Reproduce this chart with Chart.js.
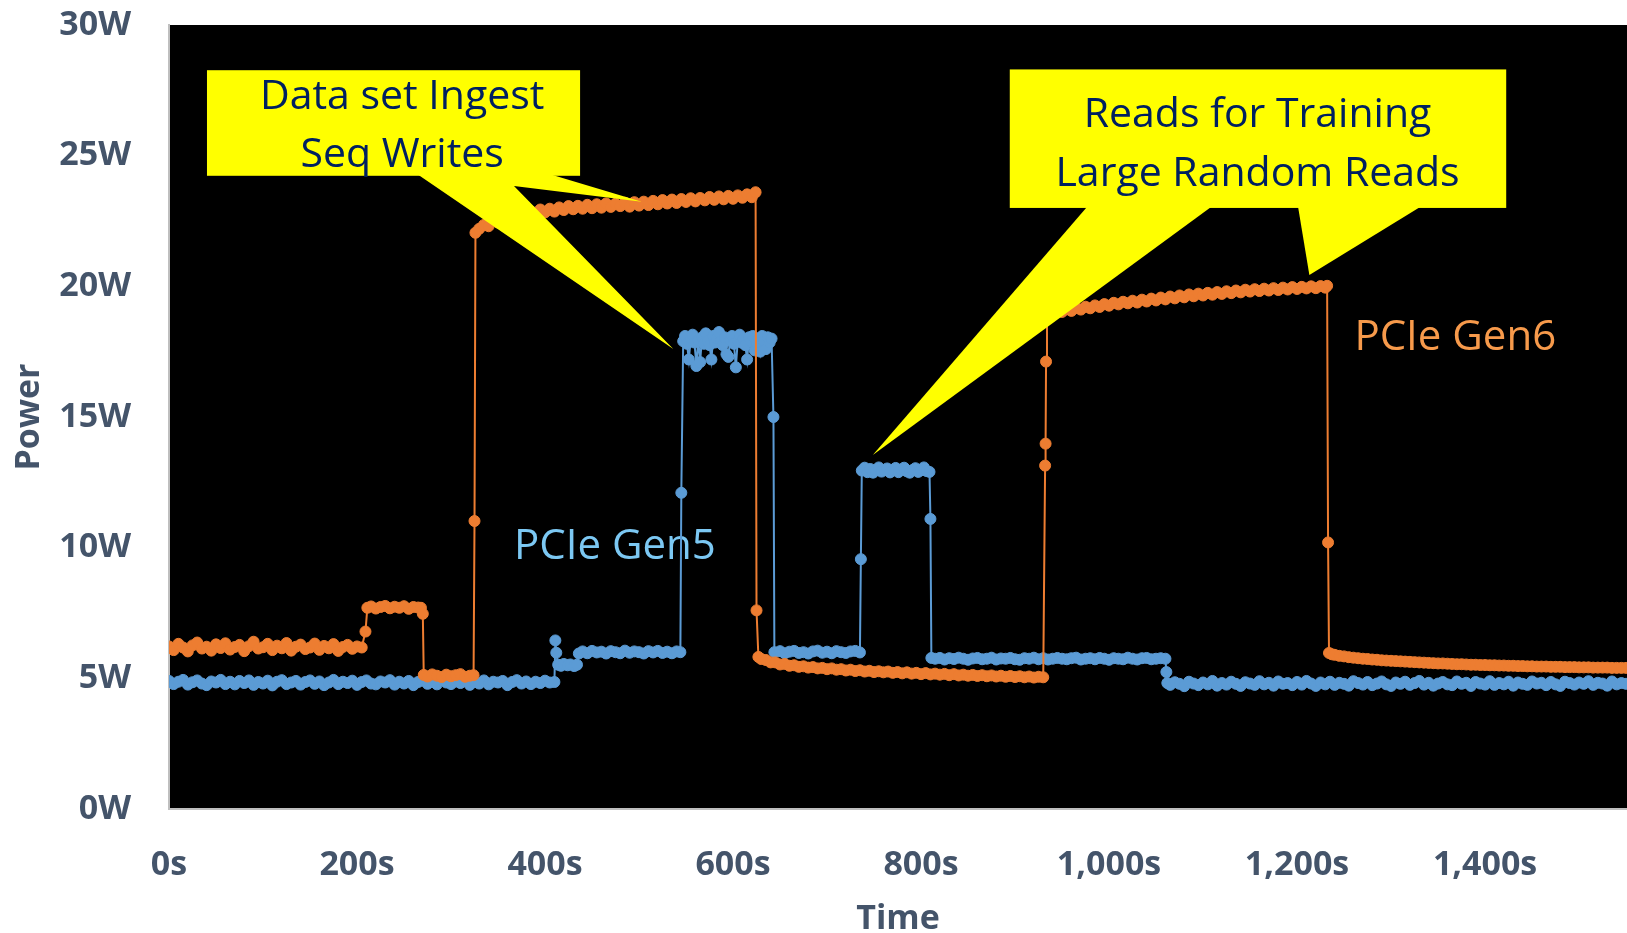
<!DOCTYPE html>
<html><head><meta charset="utf-8">
<script src="https://cdn.jsdelivr.net/npm/chart.js@4.4.0/dist/chart.umd.min.js"></script>
<style>html,body{margin:0;padding:0;background:#fff;overflow:hidden;}canvas{display:block;}</style>
</head><body><canvas id="c" width="1627" height="933" style="width:1627px;height:933px;"></canvas>
<script>
// ---- Data (seconds, watts) ----
const gen5Time = [
 0,5,10,15,20,25,30,35,40,45,50,55,60,65,70,75,80,85,90,95,
 100,105,110,115,120,125,130,135,140,145,150,155,160,165,170,175,180,185,190,195,
 200,205,210,215,220,225,230,235,240,245,250,255,260,265,270,275,280,285,290,295,
 300,305,310,315,320,325,330,335,340,345,350,355,360,365,370,375,380,385,390,395,
 400,405,410,
 411,412,414,417,420,424,427,431,434,436,
 440,445,450,455,460,465,470,475,480,485,490,495,500,505,510,515,520,525,530,535,540,544,
 545,
 547,549,551,553,555,557,559,561,563,565,567,569,571,573,575,577,579,581,583,585,
 587,589,591,593,595,597,599,601,603,605,607,609,611,613,615,617,619,621,623,625,
 627,629,631,633,635,637,639,641,
 643,
 644,650,655,660,665,670,675,680,685,690,695,700,705,710,715,720,725,730,735,
 736,
 737,740,743,746,749,752,755,758,761,764,767,770,773,776,779,782,785,788,791,794,797,800,803,806,809,
 810,
 811,815,820,825,830,835,840,845,850,855,860,865,870,875,880,885,890,895,900,905,910,
 915,920,925,930,935,940,945,950,955,960,965,970,975,980,985,990,995,1000,1005,1010,
 1015,1020,1025,1030,1035,1040,1045,1050,1055,1060,
 1061,1062,
 1065,1070,1075,1080,1085,1090,1095,1100,1105,1110,
 1115,1120,1125,1130,1135,1140,1145,1150,1155,1160,
 1165,1170,1175,1180,1185,1190,1195,1200,1205,1210,
 1215,1220,1225,1230,1235,1240,1245,1250,1255,1260,
 1265,1270,1275,1280,1285,1290,1295,1300,1305,1310,
 1315,1320,1325,1330,1335,1340,1345,1350,1355,1360,
 1365,1370,1375,1380,1385,1390,1395,1400,1405,1410,
 1415,1420,1425,1430,1435,1440,1445,1450,1455,1460,
 1465,1470,1475,1480,1485,1490,1495,1500,1505,1510,
 1515,1520,1525,1530,1535,1540,1545,1550];
const gen5Watts = [
 4.9,4.78,4.87,4.94,4.76,4.85,4.92,4.8,4.74,4.88,4.84,4.94,4.78,4.87,4.77,4.9,4.82,4.92,4.75,4.86,
 4.8,4.91,4.73,4.87,4.93,4.78,4.84,4.9,4.76,4.86,4.92,4.79,4.88,4.74,4.84,4.94,4.78,4.87,4.82,4.91,
 4.75,4.86,4.92,4.8,4.77,4.88,4.84,4.93,4.76,4.87,4.8,4.9,4.74,4.86,4.92,4.79,4.87,4.77,4.94,4.84,
 4.78,4.88,4.82,4.91,4.75,4.86,4.8,4.92,4.77,4.87,4.84,4.9,4.74,4.86,4.93,4.8,4.88,4.78,4.87,4.82,
 4.91,4.84,4.86,
 6.45,5.98,5.52,5.48,5.55,5.5,5.53,5.47,5.52,5.95,
 6.03,5.96,6.05,5.99,6.02,5.95,6.04,6.0,5.96,6.06,5.98,6.03,6.0,5.95,6.04,5.99,6.05,5.97,6.02,5.96,6.03,6.0,
 12.1,
 17.9,18.1,17.8,17.2,18.0,18.15,17.85,16.95,17.95,17.1,18.05,17.8,18.2,17.9,17.75,17.2,18.1,17.85,18.0,18.25,
 17.9,17.75,18.05,17.4,17.3,17.95,18.1,17.8,16.9,17.9,18.15,17.85,18.0,17.75,17.2,18.05,17.9,18.1,17.55,17.85,
 18.0,17.5,18.1,17.9,17.6,18.05,17.85,18.0,
 15.0,
 6.0,6.04,5.96,6.02,6.05,5.97,6.0,5.95,6.03,6.06,5.98,6.02,5.96,6.04,6.0,5.97,6.03,6.05,5.99,
 9.56,
 12.95,13.06,12.89,13.01,12.87,12.97,13.07,12.91,12.98,13.03,12.88,12.95,13.05,12.89,12.99,13.06,12.92,12.87,12.97,13.04,12.9,12.96,13.07,12.93,12.9,
 11.1,
 5.78,5.75,5.78,5.72,5.77,5.74,5.79,5.75,5.71,5.76,5.78,5.73,5.75,5.79,5.72,5.76,5.75,5.78,5.73,5.71,5.77,
 5.75,5.79,5.73,5.77,5.72,5.75,5.78,5.75,5.73,5.77,5.79,5.72,5.75,5.77,5.73,5.78,5.75,5.71,5.77,5.75,
 5.73,5.79,5.75,5.72,5.77,5.78,5.73,5.75,5.77,5.75,
 5.24,4.82,
 4.75,4.85,4.79,4.7,4.87,4.8,4.74,4.84,4.77,4.9,
 4.72,4.82,4.76,4.87,4.79,4.71,4.85,4.8,4.75,4.89,
 4.77,4.83,4.72,4.88,4.79,4.82,4.74,4.86,4.76,4.9,
 4.8,4.71,4.84,4.77,4.87,4.75,4.83,4.79,4.72,4.89,
 4.82,4.76,4.86,4.74,4.8,4.88,4.77,4.71,4.84,4.79,
 4.87,4.75,4.82,4.9,4.76,4.83,4.72,4.8,4.86,4.77,
 4.74,4.88,4.79,4.83,4.71,4.86,4.8,4.76,4.89,4.75,
 4.82,4.77,4.87,4.72,4.84,4.79,4.75,4.88,4.8,4.83,
 4.74,4.86,4.77,4.71,4.87,4.82,4.76,4.84,4.79,4.89,
 4.75,4.83,4.8,4.72,4.88,4.77,4.82,4.79];
const gen6Time = [
 0,5,10,15,20,25,30,35,40,45,50,55,60,65,70,75,80,85,90,95,
 100,105,110,115,120,125,130,135,140,145,150,155,160,165,170,175,180,185,190,195,
 200,205,209,
 211,215,220,225,230,235,240,245,250,255,260,265,268,270,
 271,275,280,285,290,295,300,305,310,315,320,324,325,
 326,330,
 335,340,345,350,355,360,365,370,375,380,385,390,395,400,405,410,415,420,425,430,
 435,440,445,450,455,460,465,470,475,480,485,490,495,500,505,510,515,520,525,530,
 535,540,545,550,555,560,565,570,575,580,585,590,595,600,605,610,615,620,624,
 625,
 627,630,635,640,645,650,655,660,665,670,675,680,685,690,695,700,705,710,715,720,
 725,730,735,740,745,750,755,760,765,770,775,780,785,790,795,800,805,810,815,820,
 825,830,835,840,845,850,855,860,865,870,875,880,885,890,895,900,905,910,915,920,925,930,
 932,932.5,933,934,937,940,
 945,950,955,960,965,970,975,980,985,990,995,1000,1005,1010,1015,1020,1025,1030,1035,1040,
 1045,1050,1055,1060,1065,1070,1075,1080,1085,1090,1095,1100,1105,1110,1115,1120,1125,1130,1135,1140,
 1145,1150,1155,1160,1165,1170,1175,1180,1185,1190,1195,1200,1205,1210,1215,1220,1225,1230,1232,
 1233,
 1234,1237,1240,
 1245,1250,1255,1260,1265,1270,1275,1280,1285,1290,1295,1300,1305,1310,1315,1320,1325,1330,1335,1340,
 1345,1350,1355,1360,1365,1370,1375,1380,1385,1390,1395,1400,1405,1410,1415,1420,1425,1430,1435,1440,
 1445,1450,1455,1460,1465,1470,1475,1480,1485,1490,1495,1500,1505,1510,1515,1520,1525,1530,1535,1540,
 1545,1550];
const gen6Watts = [
 6.22,6.08,6.32,6.18,6.03,6.26,6.37,6.14,6.21,6.06,6.3,6.16,6.34,6.1,6.2,6.28,6.04,6.23,6.4,6.14,
 6.19,6.32,6.08,6.25,6.15,6.35,6.06,6.21,6.29,6.12,6.18,6.33,6.09,6.24,6.15,6.31,6.05,6.2,6.28,6.13,
 6.22,6.18,6.79,
 7.7,7.75,7.67,7.73,7.77,7.68,7.74,7.7,7.76,7.66,7.73,7.71,7.7,7.47,
 5.13,5.07,5.15,5.1,5.05,5.14,5.08,5.12,5.16,5.06,5.1,5.12,11.02,
 22.05,22.2,
 22.35,22.3,22.52,22.44,22.62,22.54,22.72,22.6,22.8,22.68,22.87,22.78,22.94,22.83,22.97,22.86,23.02,22.92,23.07,22.95,
 23.08,22.97,23.12,22.99,23.14,23.01,23.17,23.04,23.16,23.07,23.2,23.05,23.22,23.09,23.24,23.11,23.27,23.14,23.3,23.17,
 23.32,23.19,23.34,23.23,23.37,23.25,23.38,23.29,23.42,23.31,23.44,23.33,23.46,23.35,23.48,23.39,23.52,23.41,23.6,
 7.6,
 5.82,5.74,5.7,5.61,5.61,5.53,5.55,5.48,5.5,5.44,5.46,5.41,5.43,5.38,5.4,5.35,5.38,5.33,5.35,5.3,
 5.33,5.28,5.31,5.26,5.29,5.24,5.27,5.23,5.26,5.21,5.24,5.19,5.23,5.18,5.21,5.16,5.2,5.15,5.18,5.14,
 5.17,5.12,5.16,5.11,5.14,5.1,5.13,5.09,5.12,5.08,5.11,5.07,5.1,5.06,5.09,5.05,5.08,5.04,5.07,5.03,5.06,5.04,
 13.14,13.98,17.12,19.0,19.04,18.98,
 19.08,19.02,19.12,19.06,19.17,19.11,19.22,19.16,19.27,19.21,19.32,19.26,19.37,19.31,19.41,19.35,19.45,19.38,19.49,19.42,
 19.53,19.46,19.57,19.5,19.61,19.54,19.65,19.58,19.69,19.62,19.72,19.65,19.75,19.68,19.78,19.71,19.81,19.74,19.84,19.77,
 19.87,19.8,19.89,19.82,19.91,19.84,19.93,19.86,19.95,19.88,19.97,19.9,19.98,19.92,20.0,19.93,20.01,19.95,20.02,
 10.2,
 5.97,5.92,5.9,
 5.86,5.84,5.81,5.79,5.77,5.75,5.74,5.72,5.71,5.69,5.68,5.67,5.66,5.65,5.64,5.63,5.62,5.61,5.6,5.59,
 5.58,5.57,5.57,5.56,5.55,5.54,5.54,5.53,5.52,5.52,5.51,5.51,5.5,5.5,5.49,5.49,5.48,5.48,5.47,5.47,
 5.46,5.46,5.45,5.45,5.45,5.44,5.44,5.44,5.43,5.43,5.43,5.42,5.42,5.42,5.41,5.41,5.41,5.41,5.4,5.4,
 5.4,5.4];
const seriesNames = ['PCIe Gen6','PCIe Gen5'];
const xTickValues = [0,200,400,600,800,1000,1200,1400];
const xTickLabels = ['0s','200s','400s','600s','800s','1,000s','1,200s','1,400s'];
const yTickValues = [0,5,10,15,20,25,30];
const yTickLabels = ['0W','5W','10W','15W','20W','25W','30W'];
const calloutTexts = [['Data set Ingest','Seq Writes'],['Reads for Training','Large Random Reads']];

// ---- Annotation geometry (in data units: seconds, watts) ----
const callouts = [
  { text: calloutTexts[0], cx: 248, baselines: [26.8, 24.57],
    box: [40.4, 437.3, 24.23, 28.27],
    pointers: [[[259.6,24.4],[536.5,17.6],[367,23.84],[502.9,23.24],[394.7,24.4]]] },
  { text: calloutTexts[1], cx: 1158, baselines: [26.08, 23.85],
    box: [894.4, 1422.5, 23.0, 28.3],
    pointers: [[[978.1,23.1],[748.7,13.55],[1111.1,23.1]], [[1200.8,23.1],[1213.1,20.43],[1334,23.1]]] }
];
const seriesLabels = [
  { text: seriesNames[1], t: 367, w: 9.56, color: '#7CC8F3' },
  { text: seriesNames[0], t: 1261, w: 17.56, color: '#F79A4B' }
];

const AX = '#44546A';
const FONT = '"Open Sans", "DejaVu Sans", sans-serif';

const plotBg = {
  id: 'plotBg',
  beforeDraw(chart) {
    const { ctx, chartArea: a } = chart;
    ctx.save(); ctx.fillStyle = '#000';
    ctx.fillRect(a.left, a.top, a.right - a.left, a.bottom - a.top);
    ctx.restore();
  }
};
const seriesText = {
  id: 'seriesText',
  beforeDatasetsDraw(chart) {
    const { ctx, scales: { x, y } } = chart;
    ctx.save();
    ctx.font = '42px ' + FONT; ctx.textAlign = 'left'; ctx.textBaseline = 'alphabetic';
    seriesLabels.forEach(l => { ctx.fillStyle = l.color; ctx.fillText(l.text, x.getPixelForValue(l.t), y.getPixelForValue(l.w)); });
    ctx.restore();
  }
};
const calloutPlugin = {
  id: 'callouts',
  afterDatasetsDraw(chart) {
    const { ctx, scales: { x, y } } = chart;
    ctx.save();
    ctx.fillStyle = '#FFFF00';
    callouts.forEach(c => {
      const [t0, t1, w0, w1] = c.box;
      const X0 = x.getPixelForValue(t0), X1 = x.getPixelForValue(t1);
      const Y0 = y.getPixelForValue(w1), Y1 = y.getPixelForValue(w0);
      ctx.fillRect(X0, Y0, X1 - X0, Y1 - Y0);
      c.pointers.forEach(p => {
        ctx.beginPath();
        p.forEach((pt, i) => { const px = x.getPixelForValue(pt[0]), py = y.getPixelForValue(pt[1]); i ? ctx.lineTo(px, py) : ctx.moveTo(px, py); });
        ctx.closePath(); ctx.fill();
      });
    });
    ctx.fillStyle = '#002060'; ctx.font = '41px ' + FONT; ctx.textAlign = 'center'; ctx.textBaseline = 'alphabetic';
    callouts.forEach(c => c.text.forEach((s, i) => ctx.fillText(s, x.getPixelForValue(c.cx), y.getPixelForValue(c.baselines[i]))));
    ctx.restore();
  }
};

const mk = (ts, ws) => ts.map((t, i) => ({ x: t, y: ws[i] }));
new Chart(document.getElementById('c'), {
  type: 'line',
  data: { datasets: [
    { label: seriesNames[0], data: mk(gen6Time, gen6Watts), borderColor: '#ED7D31', backgroundColor: '#ED7D31', pointBorderColor: '#ED7D31', borderWidth: 2, pointRadius: 5.5, pointBorderWidth: 1, tension: 0 },
    { label: seriesNames[1], data: mk(gen5Time, gen5Watts), borderColor: '#5B9BD5', backgroundColor: '#5B9BD5', pointBorderColor: '#5B9BD5', borderWidth: 2, pointRadius: 5.5, pointBorderWidth: 1, tension: 0 }
  ]},
  options: {
    responsive: false, maintainAspectRatio: false, animation: false, devicePixelRatio: 1,
    layout: { autoPadding: false, padding: { top: 25, right: 0, left: 0, bottom: 0 } },
    plugins: { legend: { display: false }, tooltip: { enabled: false } },
    events: [],
    scales: {
      x: {
        type: 'linear', min: 0, max: 1551,
        afterBuildTicks: s => { s.ticks = xTickValues.map(v => ({ value: v })); },
        afterFit: s => { s.height = 124; s.paddingLeft = 0; s.paddingRight = 0; },
        grid: { display: false, drawTicks: false },
        border: { display: true, color: '#BFBFBF', width: 2 },
        ticks: { padding: 36, color: AX, font: { family: FONT, size: 34, weight: 'bold' }, maxRotation: 0, autoSkip: false,
                 callback: v => xTickLabels[xTickValues.indexOf(v)] },
        title: { display: true, text: 'Time', color: AX, font: { family: FONT, size: 34, weight: 'bold', lineHeight: 1 }, padding: { top: 0, bottom: -3 } }
      },
      y: {
        type: 'linear', min: 0, max: 30,
        afterBuildTicks: s => { s.ticks = yTickValues.map(v => ({ value: v })); },
        afterFit: s => { s.width = 169; s.paddingTop = 0; s.paddingBottom = 0; },
        grid: { display: false, drawTicks: false },
        border: { display: true, color: '#BFBFBF', width: 2 },
        ticks: { padding: 38, color: AX, font: { family: FONT, size: 34, weight: 'bold' },
                 callback: v => yTickLabels[yTickValues.indexOf(v)] },
        title: { display: true, text: 'Power', color: AX, font: { family: FONT, size: 34, weight: 'bold', lineHeight: 1.2 }, padding: { top: 9, bottom: 0 } }
      }
    }
  },
  plugins: [plotBg, seriesText, calloutPlugin]
});
</script></body></html>
